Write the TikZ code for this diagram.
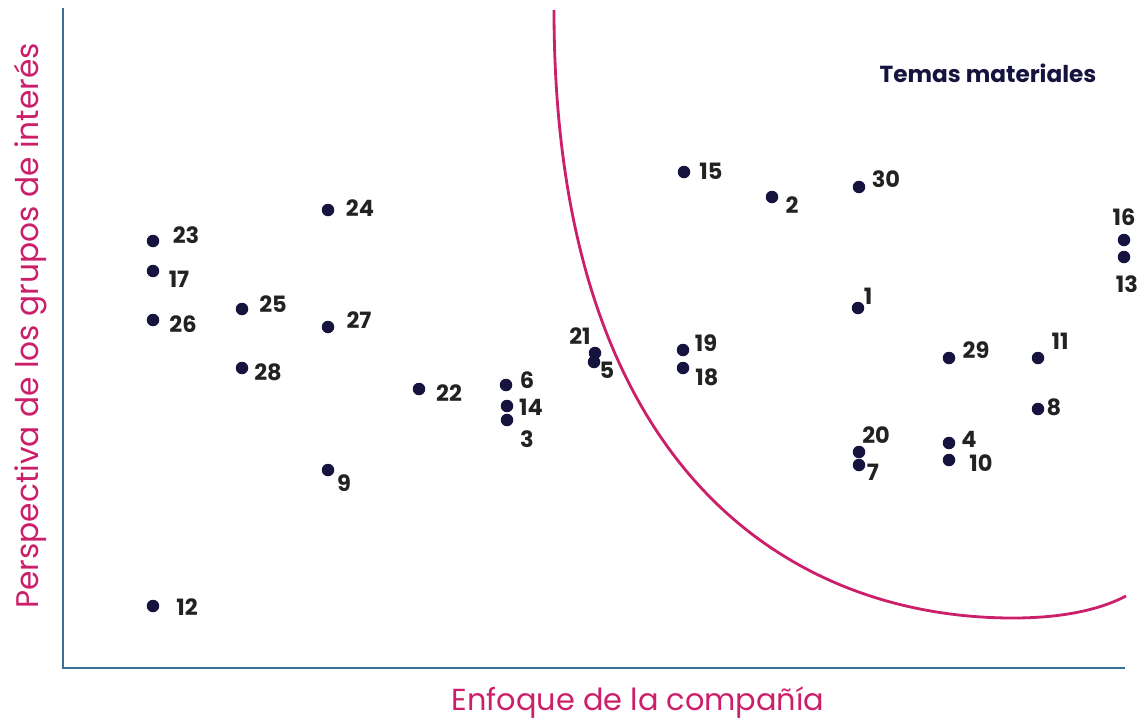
\documentclass[tikz,border=0pt]{standalone}
\usepackage{fontspec}
\setmainfont{Poppins}
\usepackage{tikz}

\definecolor{axisblue}{HTML}{3A6F98}
\definecolor{rosa}{HTML}{CC1F6A}
\definecolor{navy}{HTML}{16143F}
\definecolor{numgray}{HTML}{222222}

\begin{document}
\begin{tikzpicture}[x=0.02cm,y=-0.02cm,
    dot/.style={circle,fill=navy,inner sep=0pt,minimum size=0.25cm},
    num/.style={inner sep=0pt,text=numgray,font=\fontsize{12.8}{14}\selectfont\bfseries}]
        \useasboundingbox (0,0) rectangle (1142,721);

        % ejes
        \coordinate (O) at (63,668);
        \coordinate (Ytop) at (63,8);
        \coordinate (Xend) at (1125,668);
        \draw[axisblue,line width=1.2pt] (Ytop) -- (O) -- (Xend);

        \node[rotate=90,text=rosa,font=\fontsize{17.8}{20}\selectfont] (ylab) at (30,326) {Perspectiva de los grupos de interés};
        \node[text=rosa,font=\fontsize{17.3}{20}\selectfont] (xlab) at (638,703) {Enfoque de la compañía};

        % frontera de temas materiales
        \coordinate (c0) at (554,10);
        \coordinate (c1) at (1013,618);
        \coordinate (c2) at (1126,596);
        \draw[rosa,line width=1.6pt] (c0) .. controls (554,470) and (790,618) .. (c1)
            .. controls (1070,618) and (1105,607) .. (c2);
        \node[text=navy,font=\fontsize{13.2}{15}\selectfont\bfseries] (tm) at (988,73) {Temas materiales};

        % puntos
        \node[dot] (p23) at (153,241) {};
        \node[dot] (p17) at (153,271) {};
        \node[dot] (p26) at (153,320) {};
        \node[dot] (p12) at (153,606) {};
        \node[dot] (p25) at (242,309) {};
        \node[dot] (p28) at (242,368) {};
        \node[dot] (p24) at (328,210) {};
        \node[dot] (p27) at (328,327) {};
        \node[dot] (p9) at (328,470) {};
        \node[dot] (p22) at (419,389) {};
        \node[dot] (p6) at (506,385) {};
        \node[dot] (p14) at (507,406) {};
        \node[dot] (p3) at (507,420) {};
        \node[dot] (p21) at (595,353) {};
        \node[dot] (p5) at (594,362) {};
        \node[dot] (p15) at (684,172) {};
        \node[dot] (p19) at (683,350) {};
        \node[dot] (p18) at (683,368) {};
        \node[dot] (p2) at (772,197) {};
        \node[dot] (p30) at (859,187) {};
        \node[dot] (p1) at (858,308) {};
        \node[dot] (p20) at (859,452) {};
        \node[dot] (p7) at (859,465) {};
        \node[dot] (p29) at (949,358) {};
        \node[dot] (p4) at (949,443) {};
        \node[dot] (p10) at (949,460) {};
        \node[dot] (p11) at (1038,358) {};
        \node[dot] (p8) at (1038,409) {};
        \node[dot] (p16) at (1124,240) {};
        \node[dot] (p13) at (1124,257) {};

        % etiquetas
        \node[num] (t23) at (186,235) {23};
        \node[num] (t17) at (179,279) {17};
        \node[num] (t26) at (183,324) {26};
        \node[num] (t12) at (187,607) {12};
        \node[num] (t25) at (273,304) {25};
        \node[num] (t28) at (268,372) {28};
        \node[num] (t24) at (360,208) {24};
        \node[num] (t27) at (359,320) {27};
        \node[num] (t9) at (344,483) {9};
        \node[num] (t22) at (449,393) {22};
        \node[num] (t6) at (527,380) {6};
        \node[num] (t14) at (531,407) {14};
        \node[num] (t3) at (527,439) {3};
        \node[num] (t21) at (580,336) {21};
        \node[num] (t5) at (607,370) {5};
        \node[num] (t15) at (711,171) {15};
        \node[num] (t19) at (706,343) {19};
        \node[num] (t18) at (707,377) {18};
        \node[num] (t2) at (792,205) {2};
        \node[num] (t30) at (886,179) {30};
        \node[num] (t1) at (868,296) {1};
        \node[num] (t20) at (876,435) {20};
        \node[num] (t7) at (873,472) {7};
        \node[num] (t29) at (976,350) {29};
        \node[num] (t4) at (969,439) {4};
        \node[num] (t10) at (981,463) {10};
        \node[num] (t11) at (1060,341) {11};
        \node[num] (t8) at (1054,407) {8};
        \node[num] (t16) at (1124,217) {16};
        \node[num] (t13) at (1127,284) {13};
\end{tikzpicture}
\end{document}
